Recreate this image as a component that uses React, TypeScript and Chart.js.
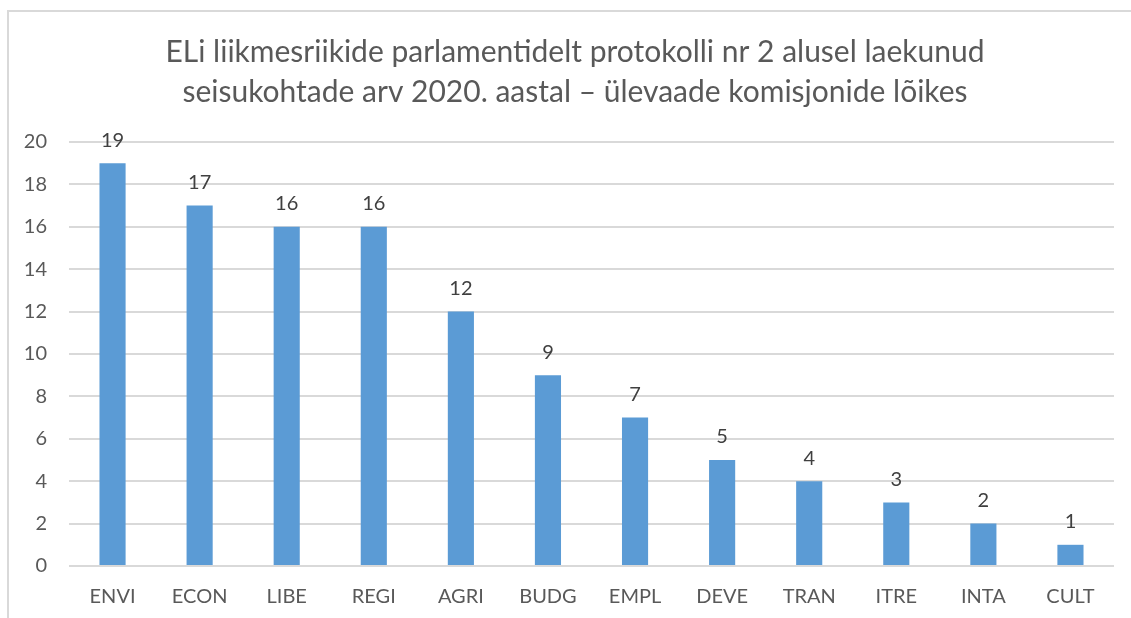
import React, { useEffect, useRef } from "react";
import { Chart, registerables } from "chart.js";

Chart.register(...registerables);

const TITLE_LINES = [
  "ELi liikmesriikide parlamentidelt protokolli nr 2 alusel laekunud",
  "seisukohtade arv 2020. aastal – ülevaade komisjonide lõikes",
];
const CATEGORIES = ["ENVI", "ECON", "LIBE", "REGI", "AGRI", "BUDG", "EMPL", "DEVE", "TRAN", "ITRE", "INTA", "CULT"];
const VALUES = [19, 17, 16, 16, 12, 9, 7, 5, 4, 3, 2, 1];
const Y_MIN = 0;
const Y_MAX = 20;
const Y_STEP = 2;

const FONT = "Lato, 'Open Sans', sans-serif";

const titlePlugin = {
  id: "customTitle",
  afterDraw(chart: any) {
    const ctx = chart.ctx;
    ctx.save();
    ctx.font = `30px ${FONT}`;
    ctx.fillStyle = "#595959";
    ctx.textAlign = "center";
    ctx.textBaseline = "middle";
    const cx = 575;
    TITLE_LINES.forEach((t, i) => ctx.fillText(t, cx, 52 + i * 40));
    ctx.restore();
  },
};

const labelPlugin = {
  id: "valueLabels",
  afterDatasetsDraw(chart: any) {
    const ctx = chart.ctx;
    const meta = chart.getDatasetMeta(0);
    ctx.save();
    ctx.font = `20px ${FONT}`;
    ctx.fillStyle = "#404040";
    ctx.textAlign = "center";
    ctx.textBaseline = "middle";
    meta.data.forEach((bar: any, i: number) => {
      ctx.fillText(String(VALUES[i]), bar.x, bar.y - 23);
    });
    ctx.restore();
  },
};

export default function App() {
  const ref = useRef<HTMLCanvasElement>(null);
  useEffect(() => {
    if (!ref.current) return;
    const chart = new Chart(ref.current, {
      type: "bar",
      data: {
        labels: CATEGORIES,
        datasets: [
          {
            data: VALUES,
            backgroundColor: "#5b9bd5",
            barPercentage: 0.3,
            categoryPercentage: 1,
          },
        ],
      },
      options: {
        animation: false,
        responsive: false,
        maintainAspectRatio: false,
        layout: { padding: { top: 142, right: 17, bottom: 0, left: 0 } },
        plugins: { legend: { display: false }, title: { display: false }, tooltip: { enabled: false } },
        scales: {
          x: {
            grid: { display: false, drawTicks: false },
            border: { display: false },
            ticks: { color: "#595959", font: { family: FONT, size: 20 }, padding: 19, maxRotation: 0 },
            afterFit(scale: any) {
              scale.height = 52;
            },
          },
          y: {
            min: Y_MIN,
            max: Y_MAX,
            ticks: { stepSize: Y_STEP, color: "#595959", font: { family: FONT, size: 20 }, padding: 22 },
            grid: { color: "#d9d9d9", lineWidth: 2, drawTicks: false },
            border: { display: false },
            afterFit(scale: any) {
              scale.width = 69;
            },
          },
        },
      },
      plugins: [titlePlugin, labelPlugin],
    });
    return () => chart.destroy();
  }, []);
  return (
    <>
      <div
        style={{
          position: "fixed",
          left: 7,
          top: 10,
          width: 1300,
          height: 800,
          border: "2px solid #d9d9d9",
          boxSizing: "border-box",
        }}
      />
      <canvas
        ref={ref}
        width={1131}
        height={618}
        style={{ position: "fixed", left: 0, top: 0, width: 1131, height: 618 }}
      />
    </>
  );
}
